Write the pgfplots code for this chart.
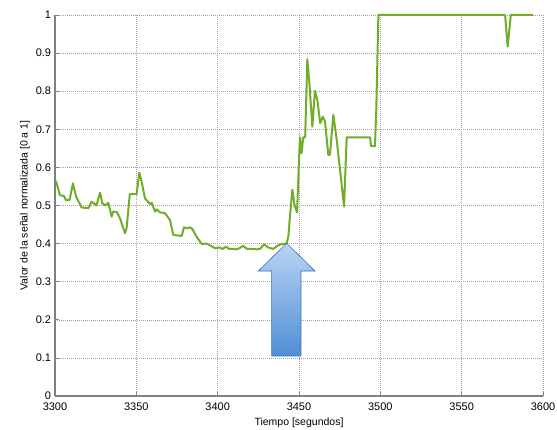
\documentclass[border=0pt]{standalone}
\usepackage{pgfplots}
\pgfplotsset{compat=1.18}
\usepackage{fontspec}
\setmainfont{Liberation Sans}
\definecolor{sig}{RGB}{112,173,40}
\definecolor{gridc}{RGB}{160,160,160}
\definecolor{axc}{RGB}{128,128,128}
\definecolor{arrtop}{RGB}{185,212,244}
\definecolor{arrbot}{RGB}{80,142,214}
\definecolor{arredge}{RGB}{60,110,175}
\begin{document}
\begin{tikzpicture}
\useasboundingbox (-55pt,-33pt) rectangle (502pt,396pt);
\begin{axis}[
  at={(0pt,0pt)}, anchor=south west,
  scale only axis, width=488pt, height=381pt,
  xmin=3300, xmax=3600, ymin=0, ymax=1,
  xtick={3300,3350,...,3600},
  ytick={0,0.1,...,1},
  yticklabels={0,0.1,0.2,0.3,0.4,0.5,0.6,0.7,0.8,0.9,1},
  scaled x ticks=false,
  xticklabel style={/pgf/number format/set thousands separator={}, font=\fontsize{11}{12}\selectfont, inner sep=1pt, yshift=-6pt},
  yticklabel style={font=\fontsize{11}{12}\selectfont, inner sep=1pt, xshift=-2.7pt},
  /pgf/number format/assume math mode=true,
  axis x line=bottom, axis y line=left,
  axis line style={-, draw=axc, line width=1.4pt},
  tick style={draw=axc, line width=0.8pt},
  tick align=inside, major tick length=4pt,
  grid=major,
  major grid style={draw=gridc, line width=0.6pt, dash pattern=on 0.7pt off 1.3pt},
  xlabel={Tiempo [segundos]},
  ylabel={Valor de la señal normalizada [0 a 1]},
  label style={font=\fontsize{10.5}{12}\selectfont},
  xlabel style={at={(axis description cs:0.5,-0.071)}, anchor=center},
  ylabel style={at={(axis description cs:-0.0615,0.5)}, anchor=center, rotate=0},
  clip=false,
]
\addplot[sig, line width=2pt, line join=round] coordinates {
(3300.6,0.565) (3303,0.527) (3305.5,0.525) (3306.8,0.514) (3309,0.515)
(3311,0.558) (3313,0.523) (3316.4,0.495) (3320.5,0.493) (3322.5,0.51)
(3324.6,0.503) (3325.5,0.50) (3327.7,0.534) (3329,0.507) (3330.7,0.50)
(3332.8,0.507) (3334.8,0.471) (3335.8,0.484) (3338,0.483) (3340,0.466)
(3343,0.427) (3344,0.44) (3346,0.53) (3350.2,0.53) (3351.8,0.586)
(3353.3,0.562) (3355.3,0.519) (3358.4,0.504) (3359.5,0.507) (3361.5,0.484)
(3362.5,0.49) (3364.5,0.482) (3367.6,0.48) (3370.7,0.462) (3372.7,0.423)
(3377.9,0.42) (3379.3,0.443) (3381,0.440) (3383,0.443) (3384.5,0.438)
(3387,0.418) (3390.2,0.399) (3393,0.40) (3395,0.396) (3398.4,0.388)
(3401,0.39) (3403,0.386) (3405,0.392) (3407,0.386) (3409,0.386)
(3412,0.385) (3415.8,0.394) (3418,0.386) (3421,0.386) (3424,0.385)
(3426,0.386) (3428.5,0.398) (3431,0.39) (3434.2,0.386) (3437,0.395)
(3439.4,0.399) (3442.4,0.40) (3443.5,0.42) (3444.5,0.475) (3445.9,0.542)
(3447.3,0.50) (3448.8,0.482) (3450.2,0.64) (3450.6,0.679) (3451.6,0.637)
(3452.6,0.679) (3453.8,0.679) (3455.1,0.884) (3456.4,0.821) (3458.2,0.707)
(3459.8,0.801) (3461.3,0.777) (3463,0.716) (3464.6,0.733) (3466,0.72)
(3468,0.633) (3469,0.633) (3471.1,0.738) (3473.2,0.672) (3477.7,0.497)
(3479.3,0.679) (3493.7,0.679) (3494.3,0.656) (3496.7,0.656) (3497.5,0.75)
(3498.8,1.0) (3576.7,1.0) (3578.3,0.917) (3580.2,1.0) (3594,1.0)
};
\draw[arredge, line width=0.6pt, top color=arrtop, bottom color=arrbot, line join=miter]
  (axis cs:3442.4,0.401) -- (axis cs:3459.8,0.328) -- (axis cs:3451.2,0.328)
  -- (axis cs:3451.2,0.105) -- (axis cs:3433.2,0.105) -- (axis cs:3433.2,0.328)
  -- (axis cs:3425.0,0.328) -- cycle;
\end{axis}
\end{tikzpicture}
\end{document}
